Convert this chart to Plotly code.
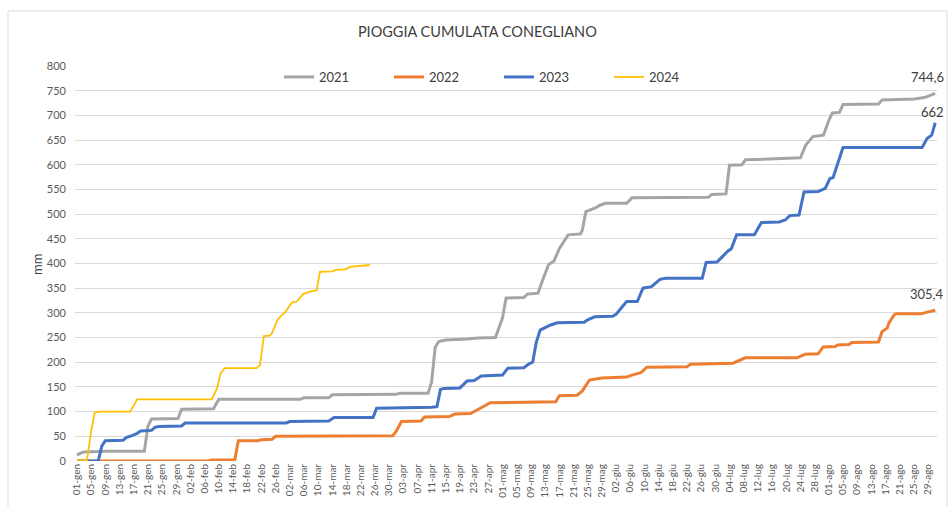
import datetime as dt
import plotly.graph_objects as go

# ---------------- data (day offset from 01-gen, cumulative mm) ----------------
SERIES_NAMES = ["2021", "2022", "2023", "2024"]

DAY_2021 = [0, 1, 2, 5, 8, 19, 20, 21, 28.5, 29.5, 38.5, 40, 63, 64, 71, 72, 90, 91, 99, 100,
            101, 102, 104, 110, 113, 118, 120, 121, 126, 127, 130, 131.5, 133, 134.5, 136,
            138.5, 142, 142.5, 143.5, 146, 147.5, 149, 155, 156.5, 178, 179, 183, 184, 187.5,
            188.5, 204, 205.5, 207.5, 210.5, 212, 213, 215, 216, 226, 227, 236, 239, 240.5, 242]
MM_2021 = [12, 16, 18, 19, 20, 20, 70, 85, 86, 105, 106, 125, 125, 128, 128, 134, 135, 137, 137, 160,
           230, 242, 245, 247, 249, 250, 290, 330, 331, 338, 340, 370, 398, 405, 430,
           458, 460, 468, 505, 512, 518, 522, 522, 533, 534, 540, 541, 599, 600,
           610, 614, 640, 657, 660, 690, 705, 706, 722, 723, 731, 733, 736, 741, 744.6]

DAY_2022 = [0, 37, 38, 44.5, 45.5, 51, 52, 55, 56, 89, 90, 91.5, 97, 98, 105, 106.5, 111, 113,
            114.5, 116.5, 135, 136, 141, 142.5, 144.5, 148, 155, 156.5, 159, 160.7, 172, 173,
            185, 188.4, 203, 205.3, 209, 210.4, 213.8, 214.5, 217.7, 218.5, 226, 227, 228.4,
            229, 230.4, 231, 238, 240, 242]
MM_2022 = [0, 0, 2, 2, 41, 41, 43, 44, 50, 51, 60, 80, 81, 89, 90, 95, 96, 105,
           110, 118, 120, 132, 133, 142, 164, 168, 170, 174, 179, 190, 191, 196,
           198, 209, 209, 216, 217, 231, 232, 235, 236, 240, 241, 262, 269,
           280, 296, 298, 298, 302, 305.4]

DAY_2023 = [0, 6, 7, 8, 13, 14, 15, 16, 17, 18, 21, 22, 23, 29.5, 30.5, 59, 60, 71, 72.5, 83.5,
            84.5, 100, 101.5, 102.5, 103.5, 108, 110, 112, 114, 120, 121.5, 126, 127.5, 128.5,
            129.5, 130.6, 133.4, 135.4, 143, 144, 146, 151, 152, 153.7, 155, 158, 159.6, 162,
            164.4, 166, 176.3, 177.4, 180.5, 182, 183.5, 184.5, 186, 191, 193, 198, 199.7, 201,
            203.6, 205, 209, 211, 212.3, 213.2, 216, 238.3, 239.7, 241, 242]
MM_2023 = [0, 0, 30, 41, 42, 48, 50, 53, 56, 61, 62, 68, 70, 71, 77, 77, 80, 81, 88, 88,
           107, 109, 110, 145, 147, 148, 162, 163, 172, 174, 188, 189, 197, 200,
           240, 265, 275, 280, 281, 286, 292, 293, 297, 312, 323, 323, 350, 353,
           368, 370, 370, 402, 403, 414, 425, 430, 458, 458, 483, 484, 488, 497,
           498, 545, 546, 552, 572, 574, 635, 635, 653, 660, 685]

DAY_2024 = [0, 2.8, 4, 5, 6.5, 15, 17, 38, 39.5, 40.5, 41.7, 50.6, 51.6, 52.7, 54.4, 55, 56.5,
            57.8, 58.6, 60.6, 62, 63.8, 65.7, 67.6, 68.5, 72, 73, 75.6, 77, 79.8, 82.6]
MM_2024 = [1, 1, 60, 98, 100, 100, 125, 125, 147, 178, 188, 188, 194, 253, 254, 259, 285,
           296, 300, 321, 323, 338, 343, 346, 383, 384, 387, 388, 393, 395, 397]

END_LABELS = {"2021": "744,6", "2022": "305,4", "2023": "662"}

MONTHS_IT = ["gen", "feb", "mar", "apr", "mag", "giu", "lug", "ago"]
TICK_STEP_DAYS = 4
LAST_DAY = 242

# ---------------- build tick labels ----------------
start = dt.date(2021, 1, 1)
tick_vals = list(range(0, LAST_DAY + 1, TICK_STEP_DAYS))
tick_text = []
for d in tick_vals:
    day = start + dt.timedelta(days=d)
    tick_text.append(f"{day.day:02d}-{MONTHS_IT[day.month - 1]}")

# ---------------- figure ----------------
series = {
    "2021": (DAY_2021, MM_2021, "#A5A5A5", 3),
    "2022": (DAY_2022, MM_2022, "#ED7D31", 3),
    "2023": (DAY_2023, MM_2023, "#4472C4", 3),
    "2024": (DAY_2024, MM_2024, "#FFC000", 1.8),
}

fig = go.Figure()
for name in SERIES_NAMES:
    xs, ys, col, w = series[name]
    fig.add_trace(go.Scatter(x=xs, y=ys, mode="lines", name=name,
                             line=dict(color=col, width=w, shape="linear"),
                             hoverinfo="skip"))

label_shift = {"2021": 16, "2022": 16, "2023": 11}
for name, txt in END_LABELS.items():
    xs, ys, col, w = series[name]
    fig.add_annotation(x=xs[-1], y=ys[-1], xref="x", yref="y", text=txt,
                       showarrow=False, xanchor="right", yanchor="middle",
                       xshift=11, yshift=label_shift[name],
                       font=dict(size=13, color="#404040"))

L, R, T, B = 75, 937, 66, 461
def px_to_paper_x(px):
    return (px - L) / (R - L)
def px_to_paper_y(py):
    return (B - py) / (B - T)

fig.add_annotation(text="mm", xref="paper", yref="paper", x=px_to_paper_x(37), y=px_to_paper_y(265),
                   textangle=-90, showarrow=False, xanchor="center", yanchor="middle",
                   font=dict(size=13, color="#404040"))

# chart border
fig.add_shape(type="rect", xref="paper", yref="paper",
              x0=px_to_paper_x(8), x1=px_to_paper_x(947),
              y0=px_to_paper_y(520), y1=px_to_paper_y(11),
              line=dict(color="#D9D9D9", width=1), fillcolor="rgba(0,0,0,0)", layer="below")

fig.update_layout(
    width=949, height=506,
    margin=dict(l=L, r=949 - R, t=T, b=506 - B, autoexpand=False),
    paper_bgcolor="white", plot_bgcolor="white",
    font=dict(family="Lato, 'Liberation Sans', sans-serif", color="#595959"),
    title=dict(text="PIOGGIA CUMULATA CONEGLIANO", xref="container", x=0.503, y=1 - 32 / 506,
               xanchor="center", yanchor="middle",
               font=dict(size=14.5, color="#404040")),
    showlegend=True,
    legend=dict(orientation="h", xref="paper", yref="paper",
                x=px_to_paper_x(279), y=px_to_paper_y(77), xanchor="left", yanchor="middle",
                entrywidth=65, entrywidthmode="pixels", itemwidth=30,
                font=dict(size=13, color="#404040"), bgcolor="rgba(0,0,0,0)",
                traceorder="normal"),
)

fig.update_xaxes(range=[-0.55, 242.5], tickmode="array", tickvals=tick_vals, ticktext=tick_text,
                 tickangle=-90, tickfont=dict(size=10, color="#595959"), automargin=False,
                 showgrid=False, zeroline=False, showline=False, ticks="")
fig.update_yaxes(range=[0, 800], tickmode="linear", tick0=0, dtick=50, automargin=False,
                 tickfont=dict(size=11, color="#595959"),
                 showgrid=True, gridcolor="#D9D9D9", gridwidth=1,
                 zeroline=False, showline=False, ticks="", ticklabelstandoff=8)

fig.write_html("out.html", config={"displayModeBar": False},
               post_script="document.body.style.margin='0';")
